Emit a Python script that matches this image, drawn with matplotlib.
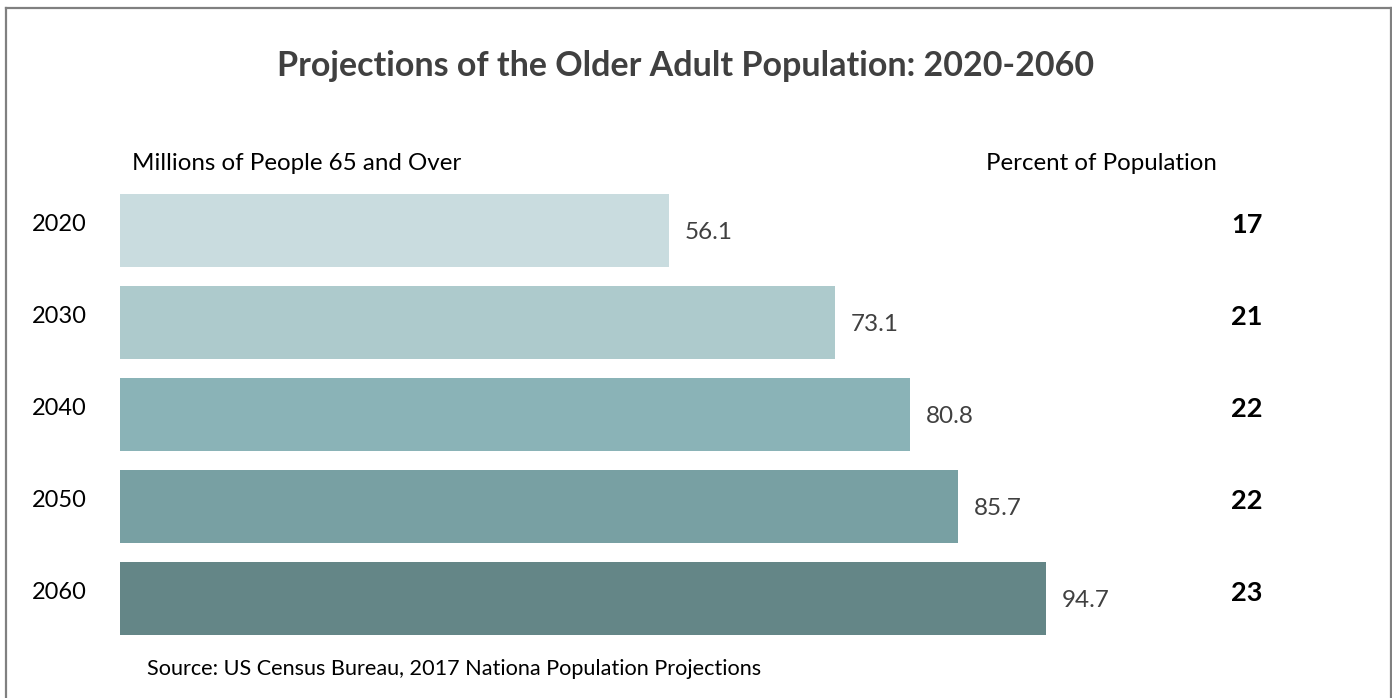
import matplotlib.pyplot as plt
from matplotlib.transforms import blended_transform_factory
from matplotlib.lines import Line2D

plt.rcParams['font.family'] = ['Lato', 'DejaVu Sans']

years = ['2020', '2030', '2040', '2050', '2060']
millions = [56.1, 73.1, 80.8, 85.7, 94.7]
percent = [17, 21, 22, 22, 23]
bar_colors = ['#C9DCDF', '#ADCACC', '#8AB3B7', '#78A0A3', '#648687']

W, H = 1392, 698
fig = plt.figure(figsize=(W / 100, H / 100), dpi=100)

# axes spans from the bar base to the right edge, full height
ax = fig.add_axes([120 / W, 0, (W - 120) / W, 1])
px_per_unit = 9.78
ax.set_xlim(0, (W - 120) / px_per_unit)
ax.set_ylim((H - 230.5) / 92, -230.5 / 92)
ax.axis('off')

pos = list(range(len(years)))
ax.barh(pos, millions, height=0.795, color=bar_colors)

for i, v in zip(pos, millions):
    ax.text(v + 16 / px_per_unit, i + 0.02, f'{v:.1f}', ha='left', va='center',
            fontsize=17.5, color='#404040')

trans = blended_transform_factory(fig.transFigure, ax.transData)
for i, y in zip(pos, years):
    ax.text(87 / W, i - 0.06, y, ha='right', va='center', fontsize=17,
            color='black', transform=trans)
for i, p in zip(pos, percent):
    ax.text(1247 / W, i - 0.06, str(p), ha='center', va='center', fontsize=19.5,
            fontweight='bold', color='black', transform=trans)

fig.text(686 / W, 1 - 66 / H, 'Projections of the Older Adult Population: 2020-2060',
         ha='center', va='center', fontsize=24.5, fontweight='bold', color='#404040')
fig.text(132 / W, 1 - 164 / H, 'Millions of People 65 and Over', ha='left',
         va='center', fontsize=17.4, color='black')
fig.text(1217 / W, 1 - 164 / H, 'Percent of Population', ha='right',
         va='center', fontsize=17.3, color='black')
fig.text(147 / W, 1 - 669 / H, 'Source: US Census Bureau, 2017 Nationa Population Projections',
         ha='left', va='center', fontsize=15.6, color='black')

# outer frame (top, left, right)
frame = dict(color='#808080', linewidth=1.6, transform=fig.transFigure)
fig.add_artist(Line2D([6 / W, 1390.5 / W], [1 - 8 / H, 1 - 8 / H], **frame))
fig.add_artist(Line2D([6 / W, 6 / W], [0, 1 - 8 / H], **frame))
fig.add_artist(Line2D([1390.5 / W, 1390.5 / W], [0, 1 - 8 / H], **frame))

fig.savefig('out.png', dpi=100, facecolor='white')
